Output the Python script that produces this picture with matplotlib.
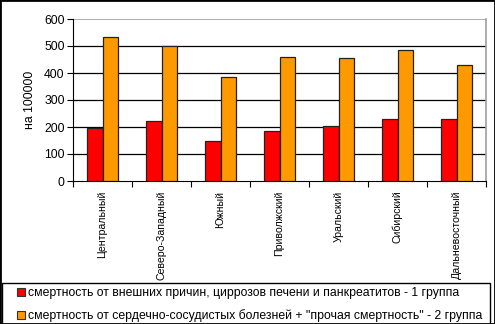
import numpy as np
import matplotlib
matplotlib.use("Agg")
import matplotlib.pyplot as plt
from matplotlib.patches import Rectangle
from matplotlib.lines import Line2D

plt.rcParams['font.family'] = ['Liberation Sans', 'DejaVu Sans']

# Federal districts and mortality per 100000
districts = ['Центральный', 'Северо-Западный', 'Южный', 'Приволжский',
             'Уральский', 'Сибирский', 'Дальневосточный']
group1 = [196, 222, 148, 185, 204, 230, 230]
group2 = [533, 500, 385, 459, 455, 485, 430]
labels = ['смертность от внешних причин, циррозов печени и панкреатитов - 1 группа',
          'смертность от сердечно-сосудистых болезней + "прочая смертность" - 2 группа']
colors = ['#FF0000', '#FF9900']

fig = plt.figure(figsize=(4.95, 3.24), dpi=100)
ax = fig.add_axes([73 / 495, 1 - 181 / 324, 413 / 495, 162 / 324])

x = np.arange(len(districts))
w = 0.27
ax.bar(x - w / 2, group1, w, color=colors[0], edgecolor='#222222', linewidth=0.9, zorder=3)
ax.bar(x + w / 2, group2, w, color=colors[1], edgecolor='#222222', linewidth=0.9, zorder=3)

ax.set_xlim(-0.5, len(districts) - 0.5)
ax.set_ylim(0, 600)
ax.set_yticks(range(0, 601, 100))
ax.tick_params(axis='y', direction='out', length=4, width=0.8, labelsize=8.8, pad=2)

# category ticks sit between groups, labels at group centres
ax.set_xticks(np.arange(len(districts) + 1) - 0.5)
ax.set_xticklabels([])
ax.tick_params(axis='x', which='major', direction='out', length=4, width=0.8)
ax.set_xticks(x, minor=True)
ax.set_xticklabels(districts, minor=True, rotation=90, fontsize=7.6)
ax.tick_params(axis='x', which='minor', length=0, pad=7)
for t in ax.get_xticklabels(minor=True):
    t.set_va('top')

for yv in range(100, 600, 100):
    ax.axhline(yv, color='black', linewidth=0.9, zorder=1)
ax.axhline(600, color='#a0a0a0', linewidth=1.2, zorder=1)

ax.spines['left'].set_color('black')
ax.spines['bottom'].set_color('black')
ax.spines['top'].set_visible(False)
ax.spines['right'].set_color('#a0a0a0')
ax.spines['right'].set_linewidth(1.2)

ax.set_ylabel('на 100000', fontsize=8.8, labelpad=6)

# legend frame across the bottom
fig.patches.append(Rectangle((2 / 495, -0.01), 488 / 495, 1 - 283 / 324 + 0.01,
                             transform=fig.transFigure, fill=False,
                             edgecolor='black', linewidth=1.0))
handles = [Line2D([], [], marker='s', linestyle='none', markersize=6,
                  markerfacecolor=c, markeredgecolor='#333333', markeredgewidth=0.8)
           for c in colors]
fig.legend(handles, labels, loc='upper left', bbox_to_anchor=(15 / 495, 1 - 287 / 324),
           frameon=False, fontsize=8.8, handletextpad=0.05, handlelength=1.0,
           labelspacing=0.85, borderaxespad=0, borderpad=0)

# outer border
fig.patches.append(Rectangle((0, 0), 1, 1, transform=fig.transFigure, fill=False,
                             edgecolor='black', linewidth=2))

fig.savefig('out.png', dpi=100)
